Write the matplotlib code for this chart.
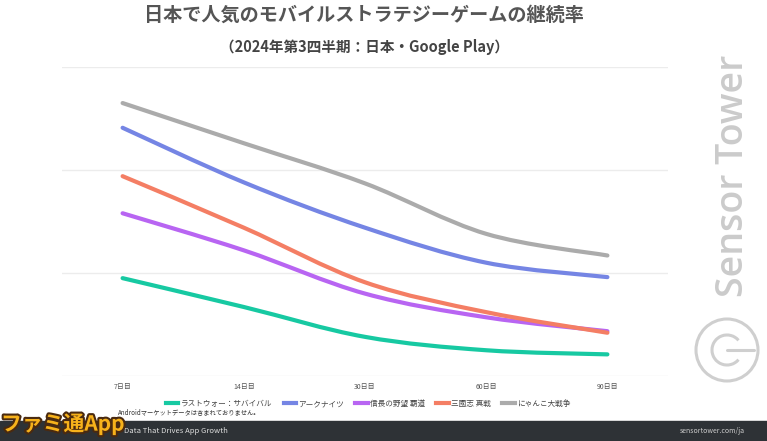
import matplotlib
matplotlib.use("Agg")
import matplotlib.pyplot as plt
import matplotlib.patheffects as pe
from matplotlib.path import Path
from matplotlib.patches import PathPatch, Circle, Rectangle, Arc
from matplotlib.lines import Line2D
import numpy as np

plt.rcParams['font.family'] = ['Noto Sans CJK JP', 'DejaVu Sans']

# data (retention, %)
days = ["7日目", "14日目", "30日目", "60日目", "90日目"]
names = ["ラストウォー：サバイバル", "アークナイツ", "信長の野望 覇道", "三國志 真戦", "にゃんこ大戦争"]
last_war = [9.5, 6.7, 3.8, 2.5, 2.1]
arknights = [24.1, 18.8, 14.4, 11.0, 9.6]
nobunaga = [15.8, 12.2, 8.0, 5.7, 4.35]
sangokushi = [19.4, 14.4, 9.1, 6.2, 4.2]
nyanko = [26.5, 22.6, 18.7, 13.8, 11.7]
colors = ["#17c9a2", "#7585e4", "#b865f2", "#f47e64", "#ababab"]


def smooth_path(xs, ys):
    # catmull-rom -> cubic bezier segments
    pts = np.column_stack([xs, ys]).astype(float)
    ext = np.vstack([pts[0], pts, pts[-1]])
    verts = [tuple(pts[0])]
    codes = [Path.MOVETO]
    for i in range(1, len(ext) - 2):
        p0, p1, p2, p3 = ext[i - 1], ext[i], ext[i + 1], ext[i + 2]
        c1 = p1 + (p2 - p0) / 6
        c2 = p2 - (p3 - p1) / 6
        verts += [tuple(c1), tuple(c2), tuple(p2)]
        codes += [Path.CURVE4] * 3
    return Path(verts, codes)


fig = plt.figure(figsize=(7.67, 4.41), dpi=100)
ax = fig.add_axes([62 / 767, 65 / 441, 606 / 767, 309 / 441])
ax.set_xlim(-0.5, 4.5)
ax.set_ylim(0, 30)
for s in ax.spines.values():
    s.set_visible(False)
ax.set_yticks([0, 10, 20, 30])
ax.set_yticklabels([])
ax.tick_params(length=0)
ax.grid(axis="y", color="#ececec", lw=1)
ax.set_axisbelow(True)
ax.set_xticks(range(len(days)))
ax.set_xticklabels(days, fontsize=5, color="#555555")
ax.tick_params(axis="x", pad=5)

x = np.arange(len(days))
series = [last_war, arknights, nobunaga, sangokushi, nyanko]
handles = []
for vals, c, n in zip(series, colors, names):
    patch = PathPatch(smooth_path(x, vals), facecolor="none", edgecolor=c,
                      lw=3, capstyle="round", clip_on=False)
    ax.add_patch(patch)
    handles.append(Line2D([], [], color=c, lw=3, label=n))

fig.legend(handles=handles, loc="center", bbox_to_anchor=(0.48, 1 - 404 / 441),
           ncol=5, frameon=False, fontsize=5.5, handlelength=1.6,
           handletextpad=0.3, columnspacing=1.5, labelcolor="#444444")

# titles
fig.text(0.475, 1 - 15 / 441, "日本で人気のモバイルストラテジーゲームの継続率",
         ha="center", va="center", fontsize=13.8, fontweight="bold", color="#555555")
fig.text(0.475, 1 - 47 / 441, "（2024年第3四半期：日本・Google Play）",
         ha="center", va="center", fontsize=10.5, fontweight="bold", color="#444444")

# watermark
fig.text(743 / 767, 1 - 176 / 441, "Sensor Tower", rotation=90, rotation_mode="anchor",
         ha="center", va="baseline", fontsize=27, fontweight="semibold", color="#cbcbcb",
         family=["Open Sans", "DejaVu Sans"])
ax_logo = fig.add_axes([0, 0, 1, 1], facecolor="none")
ax_logo.set_xlim(0, 767)
ax_logo.set_ylim(441, 0)
ax_logo.axis("off")
ax_logo.add_patch(Circle((727, 350), 31, fill=False, ec="#cfcfcf", lw=2.2))
ax_logo.add_patch(Arc((727, 350), 30, 30, theta1=40, theta2=320, ec="#cfcfcf", lw=2.2))
ax_logo.plot([727, 754], [350, 350], color="#cfcfcf", lw=2.2, solid_capstyle="round")

# footer
ax_logo.add_patch(Rectangle((0, 421), 767, 20, color="#2e3236", zorder=1))
fig.text(118 / 767, 1 - 412 / 441, "Androidマーケットデータは含まれておりません。",
         ha="left", va="center", fontsize=4.5, color="#333333")
fig.text(124 / 767, 1 - 431 / 441, "Data That Drives App Growth",
         ha="left", va="center", fontsize=5.5, color="#dddddd")
fig.text(745 / 767, 1 - 431 / 441, "sensortower.com/ja", ha="right", va="center",
         fontsize=5, color="#cccccc")
fig.text(1 / 767, 1 - 424 / 441, "ファミ通App", ha="left", va="center", fontsize=15,
         fontweight="bold", color="#f7b21b",
         path_effects=[pe.withStroke(linewidth=3, foreground="#4a2a10")])

fig.savefig("out.png", dpi=100, facecolor="white")
